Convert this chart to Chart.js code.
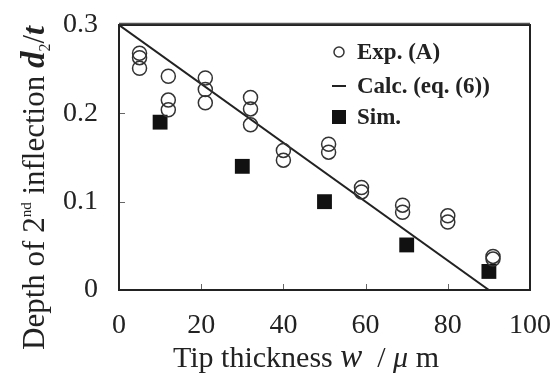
<!DOCTYPE html>
<html>
<head>
<meta charset="utf-8">
<script src="https://cdn.jsdelivr.net/npm/chart.js@4.4.0/dist/chart.umd.min.js"></script>
<style>
  html, body { margin: 0; padding: 0; background: #fff; }
</style>
</head>
<body>
<canvas id="chart" width="556" height="376"></canvas>
<script>
// Tip thickness w (um) vs depth of 2nd inflection d2/t
const expX = [5, 5, 5, 12, 12, 12, 21, 21, 21, 32, 32, 32, 40, 40, 51, 51, 59, 59, 69, 69, 80, 80, 91, 91];
const expY = [0.268, 0.263, 0.251, 0.242, 0.215, 0.204, 0.240, 0.227, 0.212, 0.218, 0.205, 0.187,
              0.158, 0.147, 0.165, 0.156, 0.116, 0.111, 0.096, 0.088, 0.084, 0.077, 0.038, 0.035];
const calcX = [0, 90];
const calcY = [0.3, 0];
const simX = [10, 30, 50, 70, 90];
const simY = [0.190, 0.140, 0.100, 0.051, 0.021];
const xTicks = [0, 20, 40, 60, 80, 100];
const yTicks = [0, 0.1, 0.2, 0.3];

const SERIF = '"Liberation Serif", "Times New Roman", serif';
const INK = '#222';

const toPoints = (xs, ys) => xs.map((v, i) => ({ x: v, y: ys[i] }));

// draws a run of differently styled text pieces centred on cx
function drawRich(ctx, parts, cx, baseY) {
  let total = 0;
  parts.forEach(p => { ctx.font = p.font; p.w = ctx.measureText(p.t).width; total += p.w; });
  let px = cx - total / 2;
  parts.forEach(p => {
    ctx.font = p.font;
    ctx.fillText(p.t, px, baseY + (p.dy || 0));
    px += p.w;
  });
}

const framePlugin = {
  id: 'framePlugin',
  afterDraw(chart) {
    const { ctx, chartArea: a, scales: { x, y } } = chart;
    ctx.save();

    // small inward tick marks
    ctx.strokeStyle = '#666';
    ctx.lineWidth = 1;
    ctx.beginPath();
    xTicks.forEach(v => {
      const px = Math.round(x.getPixelForValue(v)) + 0.5;
      ctx.moveTo(px, a.bottom); ctx.lineTo(px, a.bottom - 6);
    });
    yTicks.forEach(v => {
      const py = Math.round(y.getPixelForValue(v)) + 0.5;
      ctx.moveTo(a.left, py); ctx.lineTo(a.left + 6, py);
    });
    ctx.stroke();

    // box
    ctx.strokeStyle = INK;
    ctx.lineWidth = 2;
    ctx.strokeRect(a.left, a.top, a.right - a.left, a.bottom - a.top);
    ctx.strokeStyle = '#555';
    ctx.lineWidth = 1.5;
    ctx.beginPath();
    ctx.moveTo(a.left, a.top - 1.5); ctx.lineTo(a.right, a.top - 1.5);
    ctx.stroke();

    ctx.fillStyle = INK;
    ctx.textAlign = 'left';
    ctx.textBaseline = 'alphabetic';

    // x axis title
    drawRich(ctx, [
      { t: 'Tip thickness ', font: '30px ' + SERIF },
      { t: 'w', font: 'italic 33px ' + SERIF },
      { t: '  / ', font: '30px ' + SERIF },
      { t: 'μ', font: 'italic 30px ' + SERIF },
      { t: ' m', font: '30px ' + SERIF }
    ], 306, 367);

    // y axis title (rotated)
    ctx.save();
    ctx.translate(44, 188);
    ctx.rotate(-Math.PI / 2);
    drawRich(ctx, [
      { t: 'Depth of 2', font: '31px ' + SERIF },
      { t: 'nd', font: '15px ' + SERIF, dy: -13 },
      { t: ' inflection ', font: '31px ' + SERIF },
      { t: 'd', font: 'italic bold 33px ' + SERIF },
      { t: '2', font: '16px ' + SERIF, dy: 6 },
      { t: '/', font: '31px ' + SERIF },
      { t: 't', font: 'italic bold 32px ' + SERIF }
    ], 0, 0);
    ctx.restore();

    // legend, built from the datasets
    const ds = chart.data.datasets;
    const rows = [52, 86, 117];
    const mx = 339, tx = 357;
    ctx.font = 'bold 23px ' + SERIF;
    ctx.textBaseline = 'middle';
    ds.forEach((d, i) => {
      const cy = rows[i];
      ctx.fillText(d.label, tx, cy + 1);
      ctx.beginPath();
      if (d.pointStyle === 'circle') {
        ctx.lineWidth = 1.5;
        ctx.strokeStyle = d.borderColor;
        ctx.arc(mx, cy, 5, 0, Math.PI * 2);
        ctx.stroke();
      } else if (d.pointStyle === 'rect') {
        ctx.fillStyle = d.backgroundColor;
        ctx.fillRect(mx - 7, cy - 7, 14, 14);
        ctx.fillStyle = INK;
      } else {
        ctx.lineWidth = 2;
        ctx.strokeStyle = d.borderColor;
        ctx.moveTo(mx - 7, cy); ctx.lineTo(mx + 7, cy);
        ctx.stroke();
      }
    });

    ctx.restore();
  }
};

const ctx = document.getElementById('chart').getContext('2d');
const chart = new Chart(ctx, {
  type: 'scatter',
  data: {
    datasets: [{
      label: 'Exp. (A)',
      data: toPoints(expX, expY),
      pointStyle: 'circle',
      pointRadius: 7,
      borderColor: '#333',
      backgroundColor: 'rgba(255,255,255,0)',
      borderWidth: 1.5
    }, {
      label: 'Calc. (eq. (6))',
      data: toPoints(calcX, calcY),
      type: 'line',
      showLine: true,
      pointStyle: 'line',
      pointRadius: 0,
      borderColor: '#222',
      borderWidth: 2,
      fill: false
    }, {
      label: 'Sim.',
      data: toPoints(simX, simY),
      pointStyle: 'rect',
      pointRadius: 10.5,
      borderColor: '#111',
      backgroundColor: '#111',
      borderWidth: 0
    }]
  },
  options: {
    responsive: false,
    animation: false,
    layout: { padding: { top: 25, right: 26, left: 0, bottom: 0 } },
    plugins: {
      legend: { display: false },
      tooltip: { enabled: false }
    },
    scales: {
      x: {
        type: 'linear',
        min: 0,
        max: 100,
        afterBuildTicks: s => { s.ticks = xTicks.map(v => ({ value: v })); },
        afterFit: s => { s.height = 86; s.paddingLeft = 0; s.paddingRight = 0; },
        grid: { display: false, drawTicks: false },
        border: { display: false },
        ticks: {
          color: INK,
          padding: 19,
          font: { family: SERIF, size: 28 },
          maxRotation: 0
        }
      },
      y: {
        type: 'linear',
        min: 0,
        max: 0.3,
        afterBuildTicks: s => { s.ticks = yTicks.map(v => ({ value: v })); },
        afterFit: s => { s.width = 119; s.paddingTop = 0; s.paddingBottom = 0; },
        grid: { display: false, drawTicks: false },
        border: { display: false },
        ticks: {
          color: INK,
          padding: 21,
          font: { family: SERIF, size: 28 },
          callback: v => String(Number(v.toFixed(1)))
        }
      }
    }
  },
  plugins: [framePlugin]
});
</script>
</body>
</html>
